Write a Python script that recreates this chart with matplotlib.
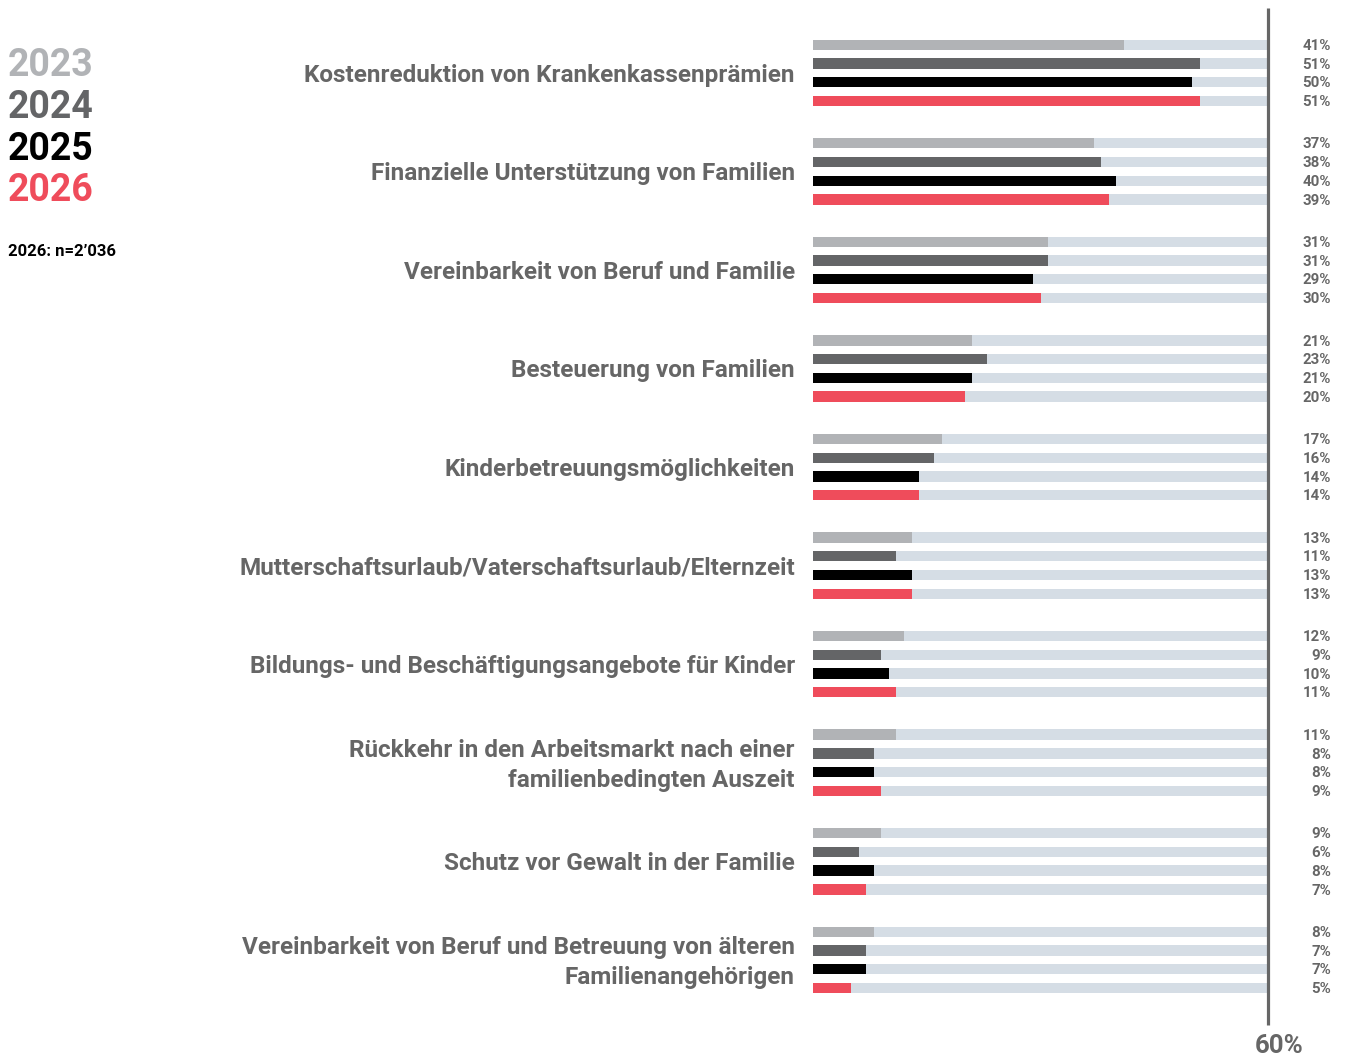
import matplotlib
matplotlib.use("Agg")
import matplotlib.pyplot as plt
import numpy as np

plt.rcParams['font.family'] = ['Roboto', 'DejaVu Sans']

categories = [
    "Kostenreduktion von Krankenkassenprämien",
    "Finanzielle Unterstützung von Familien",
    "Vereinbarkeit von Beruf und Familie",
    "Besteuerung von Familien",
    "Kinderbetreuungsmöglichkeiten",
    "Mutterschaftsurlaub/Vaterschaftsurlaub/Elternzeit",
    "Bildungs- und Beschäftigungsangebote für Kinder",
    "Rückkehr in den Arbeitsmarkt nach einer\nfamilienbedingten Auszeit",
    "Schutz vor Gewalt in der Familie",
    "Vereinbarkeit von Beruf und Betreuung von älteren\nFamilienangehörigen",
]
years = ["2023", "2024", "2025", "2026"]
v2023 = [41, 37, 31, 21, 17, 13, 12, 11, 9, 8]
v2024 = [51, 38, 31, 23, 16, 11, 9, 8, 6, 7]
v2025 = [50, 40, 29, 21, 14, 13, 10, 8, 8, 7]
v2026 = [51, 39, 30, 20, 14, 13, 11, 9, 7, 5]
series = [v2023, v2024, v2025, v2026]
colors = ["#b1b3b6", "#646567", "#000000", "#ef4c5b"]
bg_color = "#d5dde5"
gray = "#666666"
xmax = 60
note = "2026: n=2’036"

W, H = 1346, 1059
fig = plt.figure(figsize=(W / 100, H / 100), dpi=100)
left_px, right_px = 813, 1268
group_px = 98.56
top_center_px = 72.8
ax = fig.add_axes([left_px / W, 0, (right_px - left_px) / W, 1])
ax.set_xlim(0, xmax)
ymin = -top_center_px / group_px
ymax = (H - top_center_px) / group_px
ax.set_ylim(ymax, ymin)
ax.axis("off")

offsets = np.array([-1.5, -0.5, 0.5, 1.5]) * 0.19
bh = 0.105
n = len(categories)
y = np.arange(n)
for k, (vals, c) in enumerate(zip(series, colors)):
    yy = y + offsets[k]
    ax.barh(yy, [xmax] * n, height=bh, color=bg_color, linewidth=0)
    ax.barh(yy, vals, height=bh, color=c, linewidth=0)
    for yi, v in zip(yy, vals):
        ax.text(68.3, yi + 0.012, f"{v}%", ha="right", va="center", fontsize=10.8,
                fontweight="bold", color=gray, clip_on=False)

for yi, cat in zip(y, categories):
    ax.text(-2.4, yi + 0.025, cat, ha="right", va="center", fontsize=17.5,
            fontweight="bold", color=gray, linespacing=1.37, clip_on=False)

ax.plot([xmax, xmax], [(8 - top_center_px) / group_px, (1025 - top_center_px) / group_px],
        color=gray, linewidth=2.3, clip_on=False, solid_capstyle="butt")
ax.text(xmax + 1.5, (1046 - top_center_px) / group_px, f"{xmax}%", ha="center",
        va="center", fontsize=18.5, fontweight="bold", color=gray, clip_on=False)

for i, (yr, c) in enumerate(zip(years, colors)):
    fig.text(8 / W, 1 - (66 + i * 41.5) / H, yr, ha="left", va="center",
             fontsize=27, fontweight="bold", color=c)
fig.text(8 / W, 1 - 251 / H, note, ha="left", va="center", fontsize=12,
         fontweight="bold", color="#000000")

fig.savefig("out.png", dpi=100)
